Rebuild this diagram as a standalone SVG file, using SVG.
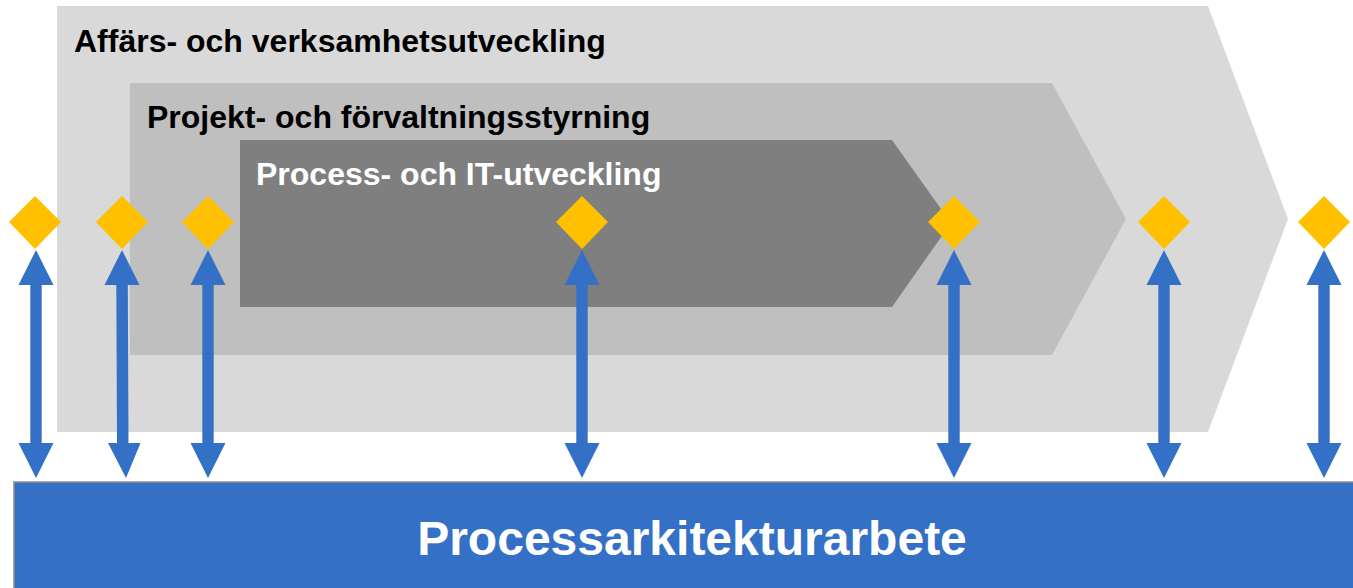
<svg xmlns="http://www.w3.org/2000/svg" xmlns:xlink="http://www.w3.org/1999/xlink" width="1353" height="588" viewBox="0 0 1353 588">
<style>
.lbl{font-family:"Liberation Sans",Arial,sans-serif;font-weight:bold}
.dia{fill:#FFC000}
.arr{fill:#3370C6}
</style>
<defs>
<path id="arr" d="M0,250 L17.5,285 L5.7,285 L5.7,443 L17.5,443 L0,478 L-17.5,443 L-5.7,443 L-5.7,285 L-17.5,285 Z"/>
<path id="dia" d="M0,196 L26,222 L0,249 L-26,222 Z"/>
</defs>
<g id="outer">
<path d="M57,6 L1208,6 L1288,219 L1208,432 L57,432 Z" fill="#D9D9D9"/>
<text class="lbl" x="74" y="52" font-size="32" fill="#000">Affärs- och verksamhetsutveckling</text>
</g>
<g id="middle">
<path d="M130,83 L1052,83 L1126,219 L1052,355 L130,355 Z" fill="#BFBFBF"/>
<text class="lbl" x="147" y="128" font-size="32" fill="#000">Projekt- och förvaltningsstyrning</text>
</g>
<g id="inner">
<path d="M240,140 L892,140 L951,223 L892,307 L240,307 Z" fill="#7F7F7F"/>
<text class="lbl" x="256" y="185" font-size="32" fill="#FFF">Process- och IT-utveckling</text>
</g>
<g id="bar">
<rect x="14" y="482" width="1345" height="110" fill="#3370C6" stroke="#8C8C8C" stroke-width="1.5"/>
<text class="lbl" x="692" y="555" font-size="48" fill="#FFF" text-anchor="middle">Processarkitekturarbete</text>
</g>
<g id="connectors" class="arr">
<use href="#arr" x="36"/>
<path d="M122,250 L139.5,285 L127.8,285 L128.5,443 L140.5,443 L126,478 L108,443 L117,443 L116.3,285 L104.5,285 Z"/>
<use href="#arr" x="208"/>
<use href="#arr" x="582"/>
<use href="#arr" x="954"/>
<use href="#arr" x="1164"/>
<use href="#arr" x="1324"/>
</g>
<g id="milestones" class="dia">
<use href="#dia" x="35"/>
<use href="#dia" x="122"/>
<use href="#dia" x="208"/>
<use href="#dia" x="582"/>
<use href="#dia" x="954"/>
<use href="#dia" x="1164"/>
<use href="#dia" x="1324"/>
</g>
</svg>
